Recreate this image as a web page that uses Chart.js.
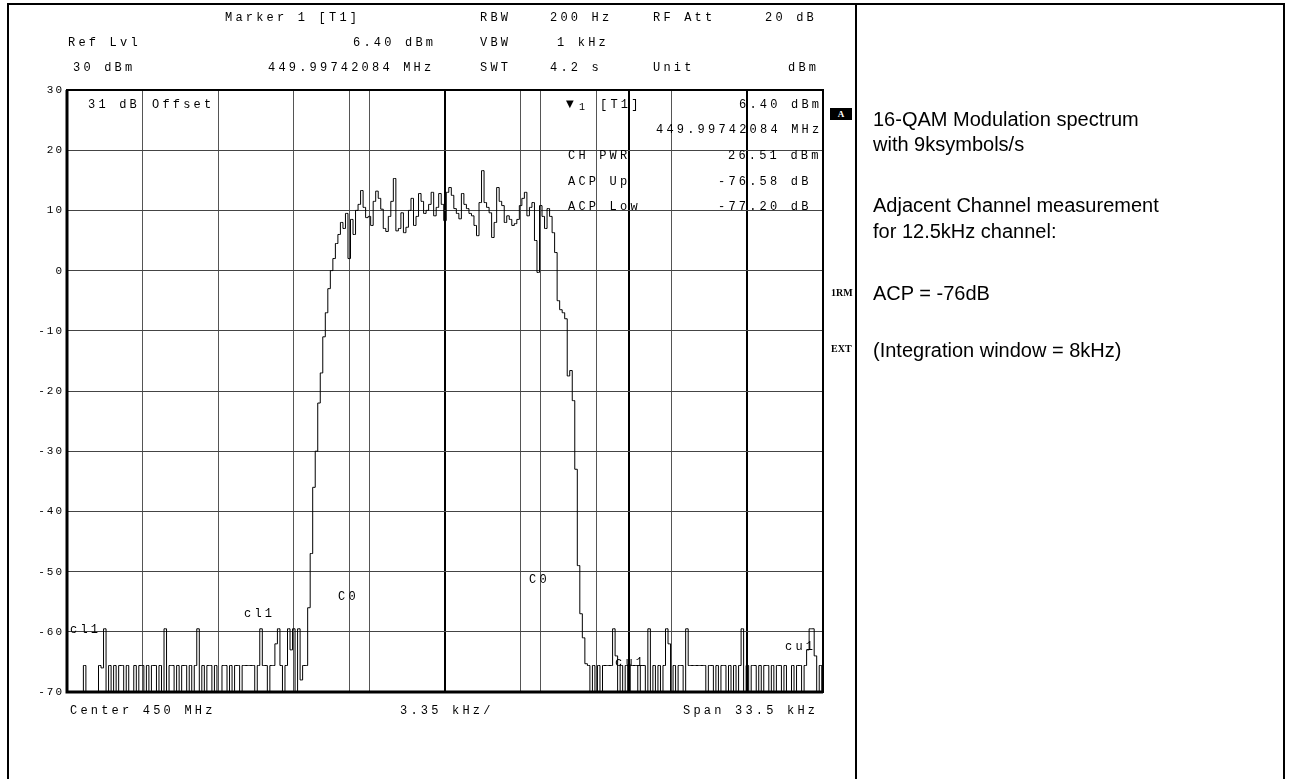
<!DOCTYPE html>
<html>
<head>
<meta charset="utf-8">
<script src="https://cdn.jsdelivr.net/npm/chart.js@4.4.0/dist/chart.umd.min.js"></script>
<style>
body { margin: 0; background: #fff; }
#page { position: relative; width: 1290px; height: 779px; overflow: hidden; background: #fff; }
#specCanvas { position: absolute; left: 0; top: 0; }
.t { position: absolute; font-family: 'Liberation Mono', monospace; font-size: 12px; letter-spacing: 3.2px; line-height: 14px; white-space: pre; color: #000; }
.note { position: absolute; left: 873px; font-family: 'Liberation Sans', Arial, sans-serif; font-size: 20px; line-height: 24px; white-space: pre; color: #000; }
.rule { position: absolute; background: #000; }
.tag { position: absolute; font-family: 'Liberation Serif', serif; font-weight: bold; font-size: 10px; line-height: 11px; color: #000; }
</style>
</head>
<body>
<div id="page">
  <canvas id="specCanvas" width="1290" height="779"></canvas>

  <!-- frame of the table -->
  <div class="rule" style="left:7px;top:3px;width:1278px;height:2px"></div>
  <div class="rule" style="left:7px;top:3px;width:2px;height:776px"></div>
  <div class="rule" style="left:855px;top:3px;width:2px;height:776px"></div>
  <div class="rule" style="left:1283px;top:3px;width:2px;height:776px"></div>

  <!-- analyzer header -->
  <div class="t" style="left:225px;top:11px">Marker 1 [T1]</div>
  <div class="t" style="left:480px;top:11px">RBW</div>
  <div class="t" style="left:550px;top:11px">200 Hz</div>
  <div class="t" style="left:653px;top:11px">RF Att</div>
  <div class="t" style="left:765px;top:11px">20 dB</div>

  <div class="t" style="left:68px;top:36px">Ref Lvl</div>
  <div class="t" style="left:353px;top:36px">6.40 dBm</div>
  <div class="t" style="left:480px;top:36px">VBW</div>
  <div class="t" style="left:557px;top:36px">1 kHz</div>

  <div class="t" style="left:73px;top:61px">30 dBm</div>
  <div class="t" style="left:268px;top:61px">449.99742084 MHz</div>
  <div class="t" style="left:480px;top:61px">SWT</div>
  <div class="t" style="left:550px;top:61px">4.2 s</div>
  <div class="t" style="left:653px;top:61px">Unit</div>
  <div class="t" style="left:788px;top:61px">dBm</div>

  <!-- texts inside the grid -->
  <div class="t" style="left:88px;top:98px">31 dB</div>
  <div class="t" style="left:152px;top:98px">Offset</div>
  <div class="t" style="left:566px;top:97px;font-family:'DejaVu Sans';font-size:10px;letter-spacing:0">&#9660;</div>
  <div class="t" style="left:579px;top:101px;font-size:10px">1</div>
  <div class="t" style="left:600px;top:98px">[T1]</div>
  <div class="t" style="left:739px;top:98px">6.40 dBm</div>
  <div class="t" style="left:656px;top:123px">449.99742084 MHz</div>
  <div class="t" style="left:568px;top:149px">CH PWR</div>
  <div class="t" style="left:728px;top:149px">26.51 dBm</div>
  <div class="t" style="left:568px;top:175px">ACP Up</div>
  <div class="t" style="left:718px;top:175px">-76.58 dB</div>
  <div class="t" style="left:568px;top:200px">ACP Low</div>
  <div class="t" style="left:718px;top:200px">-77.20 dB</div>

  <div class="t" style="left:338px;top:590px">C0</div>
  <div class="t" style="left:529px;top:573px">C0</div>
  <div class="t" style="left:244px;top:607px">cl1</div>
  <div class="t" style="left:70px;top:623px">cl1</div>
  <div class="t" style="left:615px;top:656px">cu1</div>
  <div class="t" style="left:785px;top:640px">cu1</div>

  <!-- bottom line -->
  <div class="t" style="left:70px;top:704px">Center 450 MHz</div>
  <div class="t" style="left:400px;top:704px">3.35 kHz/</div>
  <div class="t" style="left:683px;top:704px">Span 33.5 kHz</div>

  <!-- side flags -->
  <div style="position:absolute;left:830px;top:108px;width:22px;height:12px;background:#000;color:#fff;font:bold 9px 'Liberation Serif';line-height:12px;text-align:center">A</div>
  <div class="tag" style="left:831px;top:287px">1RM</div>
  <div class="tag" style="left:831px;top:343px">EXT</div>

  <!-- right panel -->
  <div class="note" style="top:107px">16-QAM Modulation spectrum</div>
  <div class="note" style="top:132px">with 9ksymbols/s</div>
  <div class="note" style="top:193px">Adjacent Channel measurement</div>
  <div class="note" style="top:219px">for 12.5kHz channel:</div>
  <div class="note" style="top:281px">ACP = -76dB</div>
  <div class="note" style="top:338px">(Integration window = 8kHz)</div>
</div>

<script>
// sweep: 301 points over the span, centre 450 MHz
const spanKHz = 33.5;
const startKHz = -16.75;

// trace level in dBm
const level = [
  -70, -70, -70, -70, -70, -70, -70, -65.6, -70, -70,
  -70, -70, -70, -65.6, -66, -59.5, -70, -65.6, -70, -65.6,
  -70, -65.6, -65.6, -70, -65.6, -70, -70, -65.6, -70, -65.6,
  -65.6, -70, -65.6, -70, -65.6, -65.6, -70, -65.6, -70, -59.5,
  -70, -65.6, -65.6, -70, -65.6, -70, -65.6, -65.6, -70, -65.6,
  -70, -65.6, -59.5, -70, -65.6, -70, -65.6, -65.6, -70, -65.6,
  -70, -70, -65.6, -65.6, -70, -65.6, -70, -65.6, -65.6, -70,
  -65.6, -65.6, -65.6, -65.6, -65.6, -70, -65.6, -59.5, -65.6, -65.6,
  -70, -65.6, -65.6, -62, -59.5, -65.6, -70, -65.6, -59.5, -63,
  -59.5, -70, -59.5, -68, -65.6, -65.6, -56, -47, -36, -30,
  -22, -17, -11, -7, -3, 0, 2, 4.5, 6, 8,
  7, 9.5, 2, 8.5, 6, 10, 11, 13.3, 10.5, 8.8,
  9, 7.5, 11.5, 13.2, 12, 10.2, 7, 6.5, 9, 11.5,
  15.3, 6.6, 7, 9.6, 6.3, 7.2, 10, 12, 7.5, 9,
  12.8, 11.5, 9.5, 10, 11, 13, 9.1, 10.5, 12.8, 11,
  8.3, 13, 13.8, 12.5, 10.3, 9.5, 8.6, 12.8, 11, 10.3,
  9.5, 9.1, 7.5, 5.8, 11.3, 16.6, 11.3, 10.5, 9.6, 5.5,
  8, 13.8, 11.5, 10.8, 8, 9.1, 8.5, 7.5, 7.8, 8.5,
  10.8, 12, 13, 9.1, 10.5, 11.3, 5, -0.3, 10.8, 9,
  7, 10.3, 9, 6.3, 3, -5, -6.5, -7, -8, -17.5,
  -16.6, -21.6, -33, -49, -57, -61, -65.3, -65.6, -70, -65.6,
  -70, -65.6, -70, -65.6, -65.6, -65.6, -65.6, -59.5, -64, -70,
  -65.6, -70, -65.6, -70, -65.6, -65.6, -65.6, -70, -65.6, -65.6,
  -70, -59.5, -70, -65.6, -70, -65.6, -70, -65.6, -59.5, -62,
  -70, -65.6, -70, -65.6, -65.6, -70, -59.5, -65.6, -65.6, -65.6,
  -65.6, -65.6, -65.6, -65.6, -70, -65.6, -65.6, -70, -65.6, -70,
  -65.6, -65.6, -70, -65.6, -70, -65.6, -70, -65.6, -59.5, -70,
  -65.6, -70, -65.6, -65.6, -70, -65.6, -70, -65.6, -65.6, -70,
  -65.6, -70, -65.6, -65.6, -70, -65.6, -70, -70, -65.6, -70,
  -65.6, -65.6, -70, -65.6, -63, -59.5, -59.5, -64, -70, -65.6,
  -70
];

// vertical lines: the 10 divisions plus channel limits (C0 and cu1)
const divisionLines = [-16.75, -13.4, -10.05, -6.7, -3.35, 0, 3.35, 6.7, 10.05, 13.4, 16.75];
const channelLines = [-4.25, 4.25, 8.15];
const heavyLines = [0, 8.15, 13.4];

const yTicks = [30, 20, 10, 0, -10, -20, -30, -40, -50, -60, -70];

const points = level.map((v, i) => ({ x: startKHz + i * spanKHz / (level.length - 1), y: v }));

const framePlugin = {
    id: 'frame',
    beforeDraw(chart) {
        chart.ctx.letterSpacing = '2px';
    },
    afterDraw(chart) {
        const ctx = chart.ctx;
        const a = chart.chartArea;
        ctx.save();
        ctx.strokeStyle = '#000';
        ctx.lineWidth = 2;
        ctx.strokeRect(a.left, a.top, a.right - a.left, a.bottom - a.top);
        ctx.lineWidth = 3;
        ctx.beginPath();
        ctx.moveTo(a.left, a.top);
        ctx.lineTo(a.left, a.bottom);
        ctx.lineTo(a.right, a.bottom);
        ctx.stroke();
        ctx.restore();
    }
};

const specCtx = document.getElementById('specCanvas').getContext('2d');
const specChart = new Chart(specCtx, {
    type: 'line',
    data: {
        datasets: [{
            data: points,
            borderColor: '#000',
            borderWidth: 1,
            pointRadius: 0,
            stepped: 'middle',
            fill: false
        }]
    },
    options: {
        responsive: false,
        animation: false,
        layout: { padding: { left: 30, top: 90, right: 467, bottom: 87 } },
        plugins: {
            legend: { display: false },
            tooltip: { enabled: false }
        },
        scales: {
            x: {
                type: 'linear',
                min: startKHz,
                max: startKHz + spanKHz,
                afterBuildTicks: scale => {
                    scale.ticks = divisionLines.concat(channelLines).map(v => ({ value: v }));
                },
                afterFit: scale => { scale.height = 0; },
                ticks: { display: false },
                border: { display: false },
                grid: {
                    drawTicks: false,
                    color: ctx => heavyLines.includes(ctx.tick.value) ? '#000' : '#555',
                    lineWidth: ctx => heavyLines.includes(ctx.tick.value) ? 2 : 1
                }
            },
            y: {
                min: -70,
                max: 30,
                afterBuildTicks: scale => {
                    scale.ticks = yTicks.map(v => ({ value: v }));
                },
                afterFit: scale => { scale.width = 37; },
                border: { display: false },
                ticks: {
                    color: '#000',
                    padding: 3,
                    font: { family: 'Liberation Mono', size: 11 }
                },
                grid: { drawTicks: false, color: '#444', lineWidth: 1 }
            }
        }
    },
    plugins: [framePlugin]
});
</script>
</body>
</html>
